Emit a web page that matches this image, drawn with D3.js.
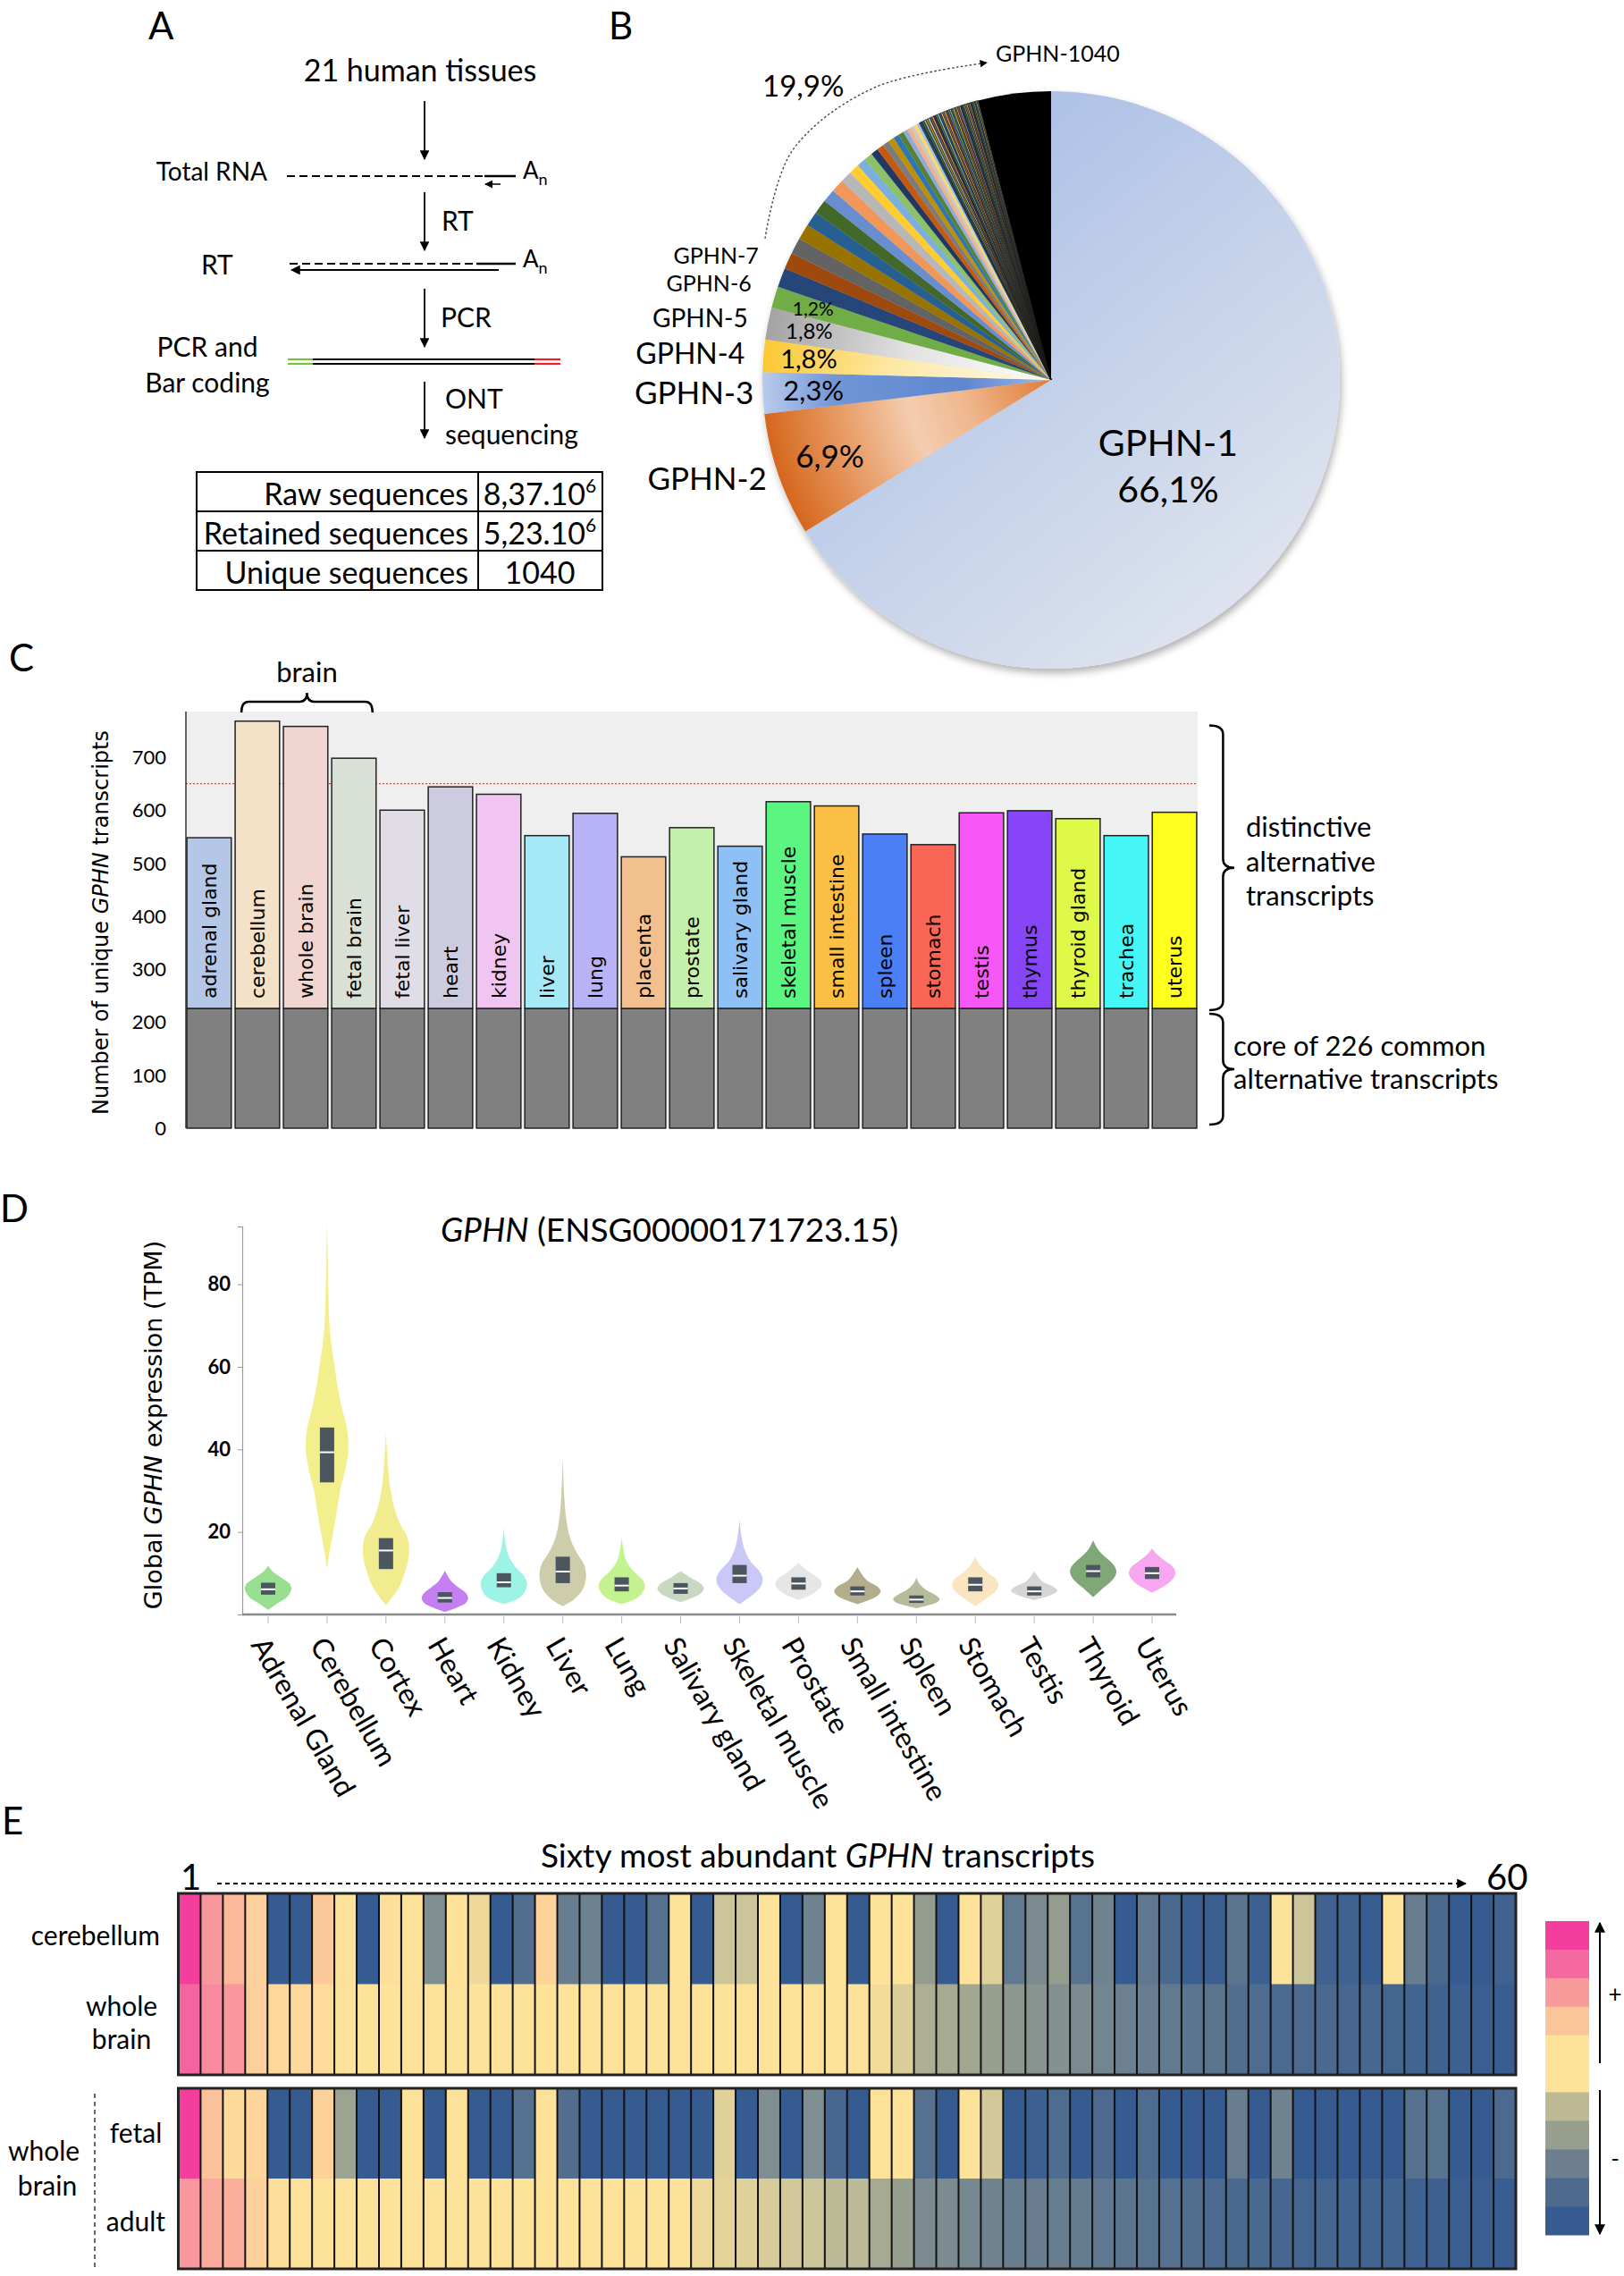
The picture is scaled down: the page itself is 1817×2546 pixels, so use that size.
<!DOCTYPE html>
<html>
<head>
<meta charset="utf-8">
<script src="https://cdn.jsdelivr.net/npm/d3@7"></script>
<style>
  body { margin: 0; background: #fff; }
  svg text { font-family: Lato, "Open Sans", sans-serif; fill: #000; }
  svg text.dv { font-family: "DejaVu Sans", sans-serif; }
</style>
</head>
<body>
<svg id="fig"></svg>
<script>
// ---------- data ----------
// panel A
var tableLabels = ["Raw sequences", "Retained sequences", "Unique sequences"];
var tableValues = ["8,37.10", "5,23.10", "1040"];
var tableExponents = ["6", "6", ""];

// panel B
var pieNames = ["GPHN-1", "GPHN-2", "GPHN-3", "GPHN-4", "GPHN-5", "GPHN-6"];
var piePct = [66.1, 6.9, 2.3, 1.8, 1.8, 1.2];
var pieTail = [1.07, 0.92, 0.9, 0.88, 0.82, 0.8, 0.74, 0.72, 0.66, 0.57, 0.5, 0.48,
  0.41, 0.4, 0.36, 0.33, 0.32, 0.31, 0.25, 0.22, 0.2, 0.18, 0.16];
var pieTiny = [0.14, 0.13, 0.13, 0.12, 0.12, 0.12, 0.11, 0.11, 0.11, 0.11, 0.1, 0.1,
  0.1, 0.1, 0.1, 0.1, 0.1, 0.1, 0.09, 0.09, 0.09, 0.09, 0.09, 0.09, 0.09, 0.08,
  0.08, 0.08, 0.08, 0.08, 0.08, 0.08, 0.07, 0.07, 0.07, 0.07];
var pieLast = 4.06;
var tailLabel = "19,9%";

// panel C
var tissues = ["adrenal gland", "cerebellum", "whole brain", "fetal brain", "fetal liver", "heart",
  "kidney", "liver", "lung", "placenta", "prostate", "salivary gland", "skeletal muscle",
  "small intestine", "spleen", "stomach", "testis", "thymus", "thyroid gland", "trachea", "uterus"];
var uniqueCounts = [548, 768, 758, 698, 600, 644, 630, 552, 594, 512, 567, 532, 616, 608,
  555, 535, 595, 599, 584, 552, 596];
var coreCount = 226;
var refCount = 650;
var cTicks = [0, 100, 200, 300, 400, 500, 600, 700];

// panel D
var gtexTissues = ["Adrenal Gland", "Cerebellum", "Cortex", "Heart", "Kidney", "Liver", "Lung",
  "Salivary gland", "Skeletal muscle", "Prostate", "Small intestine", "Spleen", "Stomach",
  "Testis", "Thyroid", "Uterus"];
// [q1, median, q3]
var gtexBoxes = [[4.8, 6.1, 7.7], [32, 39.3, 45.3], [11, 15.5, 18.5], [2.9, 4, 5.4], [6.6, 7.8, 10],
  [7.6, 10.4, 14], [5.6, 7, 9], [5, 6.3, 7.6], [7.6, 9.4, 12], [6, 7.5, 9], [4.6, 5.6, 6.8],
  [2.8, 3.6, 4.6], [5.6, 7.2, 9], [4.6, 5.6, 6.8], [9, 10.5, 12], [8.6, 10, 11.5]];
// violin density profiles: [TPM, relative density]
var gtexViolins = [
  [[1.1, 0], [2.5, 0.35], [4, 0.78], [5.5, 0.97], [6.4, 1], [7.5, 0.92], [9, 0.55], [10.5, 0.18], [11.8, 0]],
  [[11, 0], [15, 0.1], [20, 0.27], [25, 0.42], [30, 0.56], [35, 0.78], [40, 0.92], [45, 0.86],
   [50, 0.64], [55, 0.46], [60, 0.33], [65, 0.2], [70, 0.11], [80, 0.05], [90, 0.02], [95, 0]],
  [[2.3, 0], [4, 0.25], [7, 0.6], [10, 0.8], [13, 0.95], [16, 1], [19, 0.9], [22, 0.6], [26, 0.35],
   [30, 0.2], [35, 0.1], [40, 0.04], [44, 0]],
  [[0.6, 0], [1.5, 0.45], [2.8, 0.9], [4, 1], [5.2, 0.9], [6.5, 0.6], [8, 0.28], [10.6, 0]],
  [[2.5, 0], [3.5, 0.5], [5, 0.85], [7.5, 1], [9.5, 0.85], [11.5, 0.5], [14, 0.22], [17, 0.08], [21, 0]],
  [[2, 0], [3.5, 0.45], [6, 0.85], [9, 1], [12, 0.92], [15, 0.6], [18, 0.35], [22, 0.18], [28, 0.07], [38.5, 0]],
  [[2.5, 0], [3.5, 0.5], [5, 0.85], [6.8, 1], [8.5, 0.88], [10.5, 0.5], [13, 0.2], [15.5, 0.08], [18.6, 0]],
  [[3, 0], [4, 0.5], [5.2, 0.88], [6.3, 1], [7.5, 0.85], [8.8, 0.45], [10.5, 0]],
  [[2.5, 0], [4.5, 0.5], [6.5, 0.88], [8.5, 1], [10.5, 0.85], [13, 0.45], [16, 0.2], [19, 0.08], [23, 0]],
  [[3.5, 0], [4.8, 0.55], [6.3, 0.9], [7.5, 1], [8.8, 0.85], [10.5, 0.4], [12.5, 0]],
  [[2.5, 0], [3.5, 0.5], [4.6, 0.88], [5.6, 1], [6.8, 0.85], [8.3, 0.4], [11.5, 0]],
  [[1.5, 0], [2.2, 0.5], [3, 0.9], [3.7, 1], [4.6, 0.85], [6, 0.4], [7.5, 0.12], [9, 0]],
  [[2, 0], [3.8, 0.45], [5.5, 0.85], [7, 1], [8.5, 0.9], [10, 0.55], [12, 0.2], [14, 0]],
  [[3.5, 0], [4.3, 0.5], [5.2, 0.9], [5.8, 1], [6.8, 0.8], [8, 0.35], [10.5, 0]],
  [[4.2, 0], [6.5, 0.45], [8.5, 0.85], [10.3, 1], [12, 0.88], [14, 0.5], [16, 0.18], [18, 0]],
  [[5.3, 0], [6.8, 0.5], [8.5, 0.88], [10, 1], [11.5, 0.9], [13, 0.55], [14.5, 0.22], [16, 0]]
];
var dTicks = [20, 40, 60, 80];

// panel E (abundance level, 0 = lowest, 10 = highest)
var heatRowNames = ["cerebellum", "whole brain", "fetal", "adult"];
var cerebellumLevels = [10, 8.1, 7.2, 6.2, 0, 0, 6.5, 5, 0, 5.2, 5, 2.4, 5, 4.7, 0,
  1.1, 6, 1.8, 1.9, 0, 0, 1.2, 5, 0, 4, 4, 5, 0, 2, 5,
  0, 5, 5, 2.9, 0, 5, 4.4, 1.6, 2.3, 2.9, 1.3, 2, 0, 1.5, 0.8,
  0.2, 0.2, 1.4, 0.3, 5, 4, 0.4, 0.4, 0.1, 5, 1.8, 0.8, 0, 0, 0.4];
var wholeBrainLevels = [9.2, 8.4, 8.1, 6.2, 5.7, 5.7, 5.5, 5, 5, 5, 5, 5, 5, 5, 5,
  5, 5, 5, 5, 5, 5, 5, 5, 5, 5, 5, 5, 5, 5, 5,
  5, 4.8, 4.3, 3.4, 3.3, 3.2, 3, 2.7, 2.6, 2.5, 2.3, 2.1, 1.9, 1.8, 1.6,
  1.4, 1.4, 1.1, 1, 0.9, 0.9, 0.8, 0.7, 0.7, 0.6, 0.5, 0.4, 0.3, 0.2, 0.1];
var fetalLevels = [10, 6.9, 5.6, 5.9, 0, 0, 6.1, 3.1, 0, 0, 5, 0, 5, 0, 0,
  1.2, 5, 1.1, 0, 0, 0, 0, 0, 0, 4.4, 0, 2.4, 0, 2.4, 0.7,
  0, 5, 5, 1.2, 0, 5, 4.1, 0, 0.3, 1, 0, 0.9, 0, 1, 0,
  0, 0, 1.8, 0, 2, 0, 0, 0, 0, 0, 1.2, 1.3, 0, 0, 0.9];
var adultLevels = [8.1, 7.6, 7.5, 6.1, 5.2, 5.1, 5, 5, 5, 5, 5, 5, 5, 5, 5,
  5, 5, 5, 5, 5, 5, 5, 5, 4.7, 4.5, 4.4, 4.2, 4.1, 4, 3.7,
  3.7, 3.3, 3, 2.3, 2.3, 2.2, 2, 1.8, 1.8, 1.8, 1.7, 1.5, 1.4, 1.3, 1.2,
  1.1, 0.9, 0.8, 0.8, 0.7, 0.6, 0.6, 0.5, 0.5, 0.5, 0.4, 0.3, 0.2, 0.2, 0.1];
var heatLevelStops = [0, 1, 2, 3, 4, 5, 6, 7, 8, 9, 10];

// ---------- colours ----------
var tissueColors = ["#b4c7e7", "#f3e2c7", "#f0d5d1", "#d9e1d6", "#e1dde7", "#cccbe0", "#f1c5f1",
  "#a6e9f6", "#b8b3f6", "#f2c08f", "#c3f0aa", "#8ec0f6", "#5bf582", "#fbc043", "#4a7ff6",
  "#f96655", "#f657f6", "#8645f6", "#dff949", "#44f6f6", "#ffff1e"];
var gtexColors = ["#98e08f", "#f3ef8c", "#f1ed8e", "#c47ff0", "#9cf3e6", "#cdcdab", "#c2f38f",
  "#c9d9c1", "#c9c8f7", "#e6e6e6", "#b3ad8d", "#b6bb9c", "#fae5c1", "#d5d5d5", "#80a876", "#f7a7ef"];
var tailColors = ["#264478", "#9e480e", "#636363", "#997300", "#255e91", "#43682b", "#698ed0",
  "#f1975a", "#b7b7b7", "#ffcd33", "#7cafdd", "#8cc168", "#203864", "#c55a11", "#7b7b7b",
  "#bf9000", "#2e75b6", "#548235", "#8faadc", "#f4b183", "#c9c9c9", "#ffd966", "#9dc3e6"];
var heatColors = ["#365b91", "#4e6c8f", "#6f8390", "#979f8f", "#cdc59a", "#fde29a", "#fdd39a",
  "#fbc09a", "#f99c9c", "#f46fa0", "#f43e9e"];
var legendColors = ["#f43e9e", "#f46aa0", "#f99b9b", "#fbc59a", "#fde29a", "#fde29a", "#bdb995",
  "#979f8f", "#6d7f8e", "#4e6a8d", "#365b90"];

// ---------- svg ----------
var svgWidth = 1817;
var svgHeight = 2546;

var svg = d3.select("#fig")
  .attr("width", svgWidth)
  .attr("height", svgHeight);

svg.append("rect").attr("width", svgWidth).attr("height", svgHeight).attr("fill", "#fff");

var defs = svg.append("defs");
defs.append("marker")
  .attr("id", "head")
  .attr("viewBox", "0 0 10 10")
  .attr("refX", 9).attr("refY", 5)
  .attr("markerWidth", 6).attr("markerHeight", 6)
  .attr("orient", "auto-start-reverse")
  .append("path").attr("d", "M0,0L10,5L0,10z").attr("fill", "#000");

// panel letters
[["A", 166, 44], ["B", 681, 44], ["C", 10, 751], ["D", 0, 1367], ["E", 2, 2052]].forEach(function(p) {
  svg.append("text").attr("x", p[1]).attr("y", p[2]).attr("font-size", 42).text(p[0]);
});

// Panel A: workflow
// ==============================
var gA = svg.append("g");
var arrowX = 475;

function downArrow(y0, y1) {
  gA.append("line").attr("x1", arrowX).attr("x2", arrowX).attr("y1", y0).attr("y2", y1)
    .attr("stroke", "#000").attr("stroke-width", 1.8).attr("marker-end", "url(#head)");
}
function addText(g, x, y, size, anchor, txt) {
  return g.append("text").attr("x", x).attr("y", y).attr("font-size", size)
    .attr("text-anchor", anchor).text(txt);
}
function polyA(x, y) {
  var t = gA.append("text").attr("x", x).attr("y", y).attr("font-size", 26);
  t.append("tspan").text("A");
  t.append("tspan").attr("dy", 7).attr("font-size", 18).text("n");
}

addText(gA, 470, 91, 34, "middle", "21 human tissues");
downArrow(113, 178);
addText(gA, 299, 202, 28, "end", "Total RNA");
gA.append("line").attr("x1", 321).attr("x2", 542).attr("y1", 197).attr("y2", 197)
  .attr("stroke", "#000").attr("stroke-width", 2).attr("stroke-dasharray", "9,5");
gA.append("line").attr("x1", 542).attr("x2", 577).attr("y1", 197).attr("y2", 197)
  .attr("stroke", "#000").attr("stroke-width", 2.5);
gA.append("line").attr("x1", 560).attr("x2", 543).attr("y1", 206).attr("y2", 206)
  .attr("stroke", "#000").attr("stroke-width", 1.5).attr("marker-end", "url(#head)");
polyA(585, 200);

downArrow(215, 280);
addText(gA, 494, 258, 30, "start", "RT");
addText(gA, 225, 307, 30, "start", "RT");
gA.append("line").attr("x1", 324).attr("x2", 533).attr("y1", 295).attr("y2", 295)
  .attr("stroke", "#000").attr("stroke-width", 2).attr("stroke-dasharray", "9,5");
gA.append("line").attr("x1", 533).attr("x2", 577).attr("y1", 295).attr("y2", 295)
  .attr("stroke", "#000").attr("stroke-width", 2.5);
gA.append("line").attr("x1", 558).attr("x2", 326).attr("y1", 302).attr("y2", 302)
  .attr("stroke", "#000").attr("stroke-width", 1.8).attr("marker-end", "url(#head)");
polyA(585, 299);

downArrow(323, 388);
addText(gA, 493, 366, 30, "start", "PCR");
addText(gA, 232, 399, 30, "middle", "PCR and");
addText(gA, 232, 439, 30, "middle", "Bar coding");
[[322, 350, "#7ac143"], [350, 598, "#000"], [598, 627, "#e8212a"]].forEach(function(s) {
  [402, 407].forEach(function(y) {
    gA.append("line").attr("x1", s[0]).attr("x2", s[1]).attr("y1", y).attr("y2", y)
      .attr("stroke", s[2]).attr("stroke-width", 2.2);
  });
});

downArrow(427, 490);
addText(gA, 498, 457, 30, "start", "ONT");
addText(gA, 498, 497, 30, "start", "sequencing");

// table
var tY = d3.scaleBand().domain(tableLabels).range([528, 660]);
gA.append("rect").attr("x", 220).attr("y", 528).attr("width", 454).attr("height", 132)
  .attr("fill", "none").attr("stroke", "#000").attr("stroke-width", 2);
gA.append("line").attr("x1", 535).attr("x2", 535).attr("y1", 528).attr("y2", 660)
  .attr("stroke", "#000").attr("stroke-width", 2);
tableLabels.forEach(function(lab, i) {
  var y = tY(lab);
  if (i > 0) {
    gA.append("line").attr("x1", 220).attr("x2", 674).attr("y1", y).attr("y2", y)
      .attr("stroke", "#000").attr("stroke-width", 2);
  }
  addText(gA, 524, y + 37, 34, "end", lab);
  var t = gA.append("text").attr("x", 604).attr("y", y + 37).attr("font-size", 34)
    .attr("text-anchor", "middle");
  t.append("tspan").text(tableValues[i]);
  if (tableExponents[i]) t.append("tspan").attr("dy", -14).attr("font-size", 21).text(tableExponents[i]);
});

// Panel B: pie
// ==============================
var pieCx = 1176, pieCy = 425, pieR = 323;
var slices = [];
pieNames.forEach(function(n, i) { slices.push({ name: n, v: piePct[i], kind: "top", i: i }); });
pieTail.forEach(function(v, i) { slices.push({ v: v, kind: "tail", i: i }); });
pieTiny.forEach(function(v, i) { slices.push({ v: v, kind: "tiny", i: i }); });
slices.push({ v: pieLast, kind: "last" });

// gradients live in the pie group's own (centred) coordinates
var g1 = defs.append("linearGradient").attr("id", "pg0").attr("gradientUnits", "userSpaceOnUse")
  .attr("x1", -216).attr("y1", -245).attr("x2", 244).attr("y2", 305);
g1.append("stop").attr("offset", 0).attr("stop-color", "#a7bde5");
g1.append("stop").attr("offset", 1).attr("stop-color", "#e3e7ef");
var radialStops = [
  null,
  [["0", "#e07b35"], ["0.3", "#efb68c"], ["0.5", "#f4cdb0"], ["0.72", "#e9a06b"], ["1", "#d5671d"]],
  [["0", "#a3b9e4"], ["0.3", "#5f86cf"], ["0.75", "#7096d6"], ["1", "#b9cbec"]],
  [["0", "#fffbf0"], ["0.55", "#fde8a6"], ["1", "#fcc834"]],
  [["0", "#ffffff"], ["0.5", "#e2e2e2"], ["1", "#a3a3a3"]]
];
radialStops.forEach(function(st, i) {
  if (!st) return;
  var rg = defs.append("radialGradient").attr("id", "pg" + i).attr("gradientUnits", "userSpaceOnUse")
    .attr("cx", 0).attr("cy", 0).attr("r", pieR);
  st.forEach(function(s) { rg.append("stop").attr("offset", s[0]).attr("stop-color", s[1]); });
});
defs.append("filter").attr("id", "shadow").attr("x", "-10%").attr("y", "-10%").attr("width", "120%").attr("height", "120%")
  .append("feDropShadow").attr("dx", 2).attr("dy", 5).attr("stdDeviation", 4)
  .attr("flood-color", "#000").attr("flood-opacity", 0.3);

var pie = d3.pie().sort(null).value(function(d) { return d.v; });
var arcs = pie(slices);
var arc = d3.arc().innerRadius(0).outerRadius(pieR);

function sliceFill(d) {
  var s = d.data;
  if (s.kind === "top") return s.i < 5 ? "url(#pg" + s.i + ")" : "#70ad47";
  if (s.kind === "tail") return tailColors[s.i % tailColors.length];
  if (s.kind === "tiny") return tailColors[(s.i * 5) % tailColors.length];
  return "#000";
}

var gB = svg.append("g").attr("transform", "translate(" + pieCx + "," + pieCy + ")");
gB.append("g").attr("filter", "url(#shadow)")
  .selectAll("path").data(arcs).enter().append("path")
  .attr("d", arc)
  .attr("fill", sliceFill)
  .attr("stroke", function(d) { return d.data.kind === "tiny" ? "#1a1a1a" : "none"; })
  .attr("stroke-width", function(d) { return d.data.kind === "tiny" ? 0.7 : 0; });

function polar(a, r) { return [Math.sin(a) * r, -Math.cos(a) * r]; }
function mid(d) { return (d.startAngle + d.endAngle) / 2; }

// GPHN-1 label
var c1 = polar(mid(arcs[0]), 150);
addText(gB, c1[0], c1[1] + 12, 41, "middle", "GPHN-1");
addText(gB, c1[0], c1[1] + 64, 41, "middle", "66,1%");

// outer and inner labels for GPHN-2..7
var outerStyle = [null, [337, 35, 12], [333, 35, 12], [344, 32, 11], [346, 28, 9], [350, 25, 1], [350, 25, -6]];
var innerStyle = [null, [262, 35], [266, 31], [272, 29], [276, 24], [278, 21]];
for (var k = 1; k < 7; k++) {
  var a = mid(arcs[k]);
  var o = polar(a, outerStyle[k][0]);
  addText(gB, o[0], o[1] + outerStyle[k][2], outerStyle[k][1], "end", "GPHN-" + (k + 1));
  if (k < 6) {
    var p = polar(a, innerStyle[k][0]);
    addText(gB, p[0], p[1] + innerStyle[k][1] * 0.35, innerStyle[k][1], "middle",
      String(piePct[k]).replace(".", ",") + "%");
  }
}

// tail annotation
var tailStart = arcs[6].startAngle;
var tailEnd = arcs[arcs.length - 1].endAngle - 0.2;
var tailPath = [[tailStart + 0.13, 357], [tailStart + 0.4, 387], [tailStart + 0.7, 382], [tailEnd, 362]]
  .map(function(p) { return polar(p[0], p[1]); });
gB.append("path")
  .attr("d", d3.line().curve(d3.curveCardinal)(tailPath))
  .attr("fill", "none").attr("stroke", "#444").attr("stroke-width", 1.4)
  .attr("stroke-dasharray", "2.5,2.5").attr("marker-end", "url(#head)");
addText(svg, 853, 108, 33, "start", tailLabel);
addText(svg, 1114, 69, 25, "start", "GPHN-" + tableValues[2]);

// Panel C: bars
// ==============================
var gC = svg.append("g");
var cY = d3.scaleLinear().domain([0, 786]).range([1262, 796]);
var cX = d3.scaleBand().domain(tissues).range([208, 1340]).paddingInner(0.08).paddingOuter(0.02);

gC.append("rect").attr("x", 208).attr("y", cY(786)).attr("width", 1132).attr("height", cY(0) - cY(786))
  .attr("fill", "#efefef");
gC.append("line").attr("x1", 208).attr("x2", 1340).attr("y1", cY(refCount)).attr("y2", cY(refCount))
  .attr("stroke", "#c0504d").attr("stroke-width", 1.4).attr("stroke-dasharray", "2,2");
gC.append("line").attr("x1", 208).attr("x2", 208).attr("y1", cY(786)).attr("y2", cY(0))
  .attr("stroke", "#333").attr("stroke-width", 1.5);

gC.selectAll(".core").data(tissues).enter().append("rect")
  .attr("x", function(d) { return cX(d); })
  .attr("y", cY(coreCount))
  .attr("width", cX.bandwidth())
  .attr("height", cY(0) - cY(coreCount))
  .attr("fill", "#808080").attr("stroke", "#222").attr("stroke-width", 1.5);

gC.selectAll(".extra").data(tissues).enter().append("rect")
  .attr("x", function(d) { return cX(d); })
  .attr("y", function(d, i) { return cY(uniqueCounts[i]); })
  .attr("width", cX.bandwidth())
  .attr("height", function(d, i) { return cY(coreCount) - cY(uniqueCounts[i]); })
  .attr("fill", function(d, i) { return tissueColors[i]; })
  .attr("stroke", "#222").attr("stroke-width", 1.5);

gC.selectAll(".blab").data(tissues).enter().append("text")
  .attr("class", "dv")
  .attr("font-size", 22)
  .attr("transform", function(d) {
    return "translate(" + (cX(d) + cX.bandwidth() / 2 + 8) + "," + (cY(coreCount) - 11) + ") rotate(-90)";
  })
  .text(function(d) { return d; });

gC.selectAll(".ctick").data(cTicks).enter().append("text")
  .attr("x", 186).attr("y", function(d) { return cY(d) + 8; })
  .attr("font-size", 22).attr("text-anchor", "end").attr("fill", "#222")
  .text(function(d) { return d; });

var cTitle = gC.append("text").attr("class", "dv").attr("font-size", 24).attr("text-anchor", "middle")
  .attr("transform", "translate(121,1032) rotate(-90)");
cTitle.append("tspan").text("Number of unique ");
cTitle.append("tspan").attr("font-style", "italic").text("GPHN");
cTitle.append("tspan").text(" transcripts");

function vBrace(x, y0, y1, w) {
  var m = (y0 + y1) / 2, r = 10, xm = x + w * 0.55;
  return "M" + x + "," + y0 + "Q" + xm + "," + y0 + " " + xm + "," + (y0 + r) +
    "L" + xm + "," + (m - r) + "Q" + xm + "," + m + " " + (x + w) + "," + m +
    "Q" + xm + "," + m + " " + xm + "," + (m + r) + "L" + xm + "," + (y1 - r) +
    "Q" + xm + "," + y1 + " " + x + "," + y1;
}
function hBrace(x0, x1, y, h) {
  var m = (x0 + x1) / 2, r = 8, ym = y - h * 0.55;
  return "M" + x0 + "," + y + "Q" + x0 + "," + ym + " " + (x0 + r) + "," + ym +
    "L" + (m - r) + "," + ym + "Q" + m + "," + ym + " " + m + "," + (y - h) +
    "Q" + m + "," + ym + " " + (m + r) + "," + ym + "L" + (x1 - r) + "," + ym +
    "Q" + x1 + "," + ym + " " + x1 + "," + y;
}
var brainX0 = cX(tissues[1]) + 7, brainX1 = cX(tissues[3]) + cX.bandwidth() - 4;
gC.append("path").attr("d", hBrace(brainX0, brainX1, 797, 22))
  .attr("fill", "none").attr("stroke", "#000").attr("stroke-width", 2.5);
addText(gC, (brainX0 + brainX1) / 2, 763, 31, "middle", "brain");

gC.append("path").attr("d", vBrace(1353, cY(760), cY(coreCount) + 2, 28))
  .attr("fill", "none").attr("stroke", "#000").attr("stroke-width", 2.5);
gC.append("path").attr("d", vBrace(1353, cY(coreCount) + 6, cY(0) - 4, 28))
  .attr("fill", "none").attr("stroke", "#000").attr("stroke-width", 2.5);
addText(gC, 1394, 936, 31, "start", "distinctive");
addText(gC, 1394, 975, 31, "start", "alternative");
addText(gC, 1394, 1013, 31, "start", "transcripts");
addText(gC, 1380, 1181, 31, "start", "core of " + coreCount + " common");
addText(gC, 1380, 1218, 31, "start", "alternative transcripts");

// Panel D: violins
// ==============================
var gD = svg.append("g");
var dY = d3.scaleLinear().domain([0, 94]).range([1806, 1372]);
var dX = d3.scaleBand().domain(gtexTissues).range([267, 1322]);
var halfW = 26;

var leftAxis = d3.axisLeft(dY).tickValues(dTicks).tickSize(5).tickPadding(8);
var axD = gD.append("g").attr("transform", "translate(271,0)").call(leftAxis);
axD.select(".domain").attr("stroke", "#999").attr("stroke-width", 1.2);
axD.selectAll(".tick line").attr("stroke", "#999");
axD.selectAll(".tick text").attr("font-size", 22).attr("font-weight", "bold")
  .attr("fill", "#333").attr("font-family", "Lato, sans-serif");

gD.append("line").attr("x1", 271).attr("x2", 1316).attr("y1", dY(0)).attr("y2", dY(0))
  .attr("stroke", "#8a8a8a").attr("stroke-width", 2.5);
gD.selectAll(".xt").data(gtexTissues).enter().append("line")
  .attr("x1", function(d) { return dX(d) + dX.bandwidth() / 2; })
  .attr("x2", function(d) { return dX(d) + dX.bandwidth() / 2; })
  .attr("y1", dY(0) + 2).attr("y2", dY(0) + 10)
  .attr("stroke", "#bbb").attr("stroke-width", 1);

gtexTissues.forEach(function(t, i) {
  var cx = dX(t) + dX.bandwidth() / 2;
  var area = d3.area().curve(d3.curveCatmullRom)
    .y(function(d) { return dY(d[0]); })
    .x0(function(d) { return cx - halfW * d[1]; })
    .x1(function(d) { return cx + halfW * d[1]; });
  gD.append("path").attr("d", area(gtexViolins[i])).attr("fill", gtexColors[i]);
  var b = gtexBoxes[i];
  gD.append("rect").attr("x", cx - 8).attr("y", dY(b[2])).attr("width", 16)
    .attr("height", dY(b[0]) - dY(b[2])).attr("fill", "#4b565e");
  gD.append("line").attr("x1", cx - 8).attr("x2", cx + 8).attr("y1", dY(b[1])).attr("y2", dY(b[1]))
    .attr("stroke", "#fff").attr("stroke-width", 2);
});

gD.selectAll(".xl").data(gtexTissues).enter().append("text")
  .attr("font-size", 32)
  .attr("transform", function(d) {
    return "translate(" + (dX(d) + dX.bandwidth() / 2 - 20) + "," + (dY(0) + 34) + ") rotate(60)";
  })
  .text(function(d) { return d; });

var dTitle = gD.append("text").attr("x", 749).attr("y", 1389).attr("font-size", 37).attr("text-anchor", "middle");
dTitle.append("tspan").attr("font-style", "italic").text("GPHN");
dTitle.append("tspan").text(" (ENSG00000171723.15)");

var dYTitle = gD.append("text").attr("class", "dv").attr("font-size", 27).attr("text-anchor", "middle")
  .attr("transform", "translate(181,1594) rotate(-90)");
dYTitle.append("tspan").text("Global ");
dYTitle.append("tspan").attr("font-style", "italic").text("GPHN");
dYTitle.append("tspan").text(" expression (TPM)");

// Panel E: heat map
// ==============================
var gE = svg.append("g");
var eX = d3.scaleBand().domain(d3.range(1, 61)).range([199.5, 1696]);
var blocks = [
  { rows: [cerebellumLevels, wholeBrainLevels], y0: 2118, y1: 2321 },
  { rows: [fetalLevels, adultLevels], y0: 2336, y1: 2538 }
];
var heatColor = d3.scaleLinear().domain(heatLevelStops).range(heatColors);

blocks.forEach(function(bl) {
  var eY = d3.scaleBand().domain([0, 1]).range([bl.y0, bl.y1]);
  bl.rows.forEach(function(vals, r) {
    gE.selectAll(null).data(vals).enter().append("rect")
      .attr("x", function(d, i) { return eX(i + 1); })
      .attr("y", eY(r))
      .attr("width", eX.bandwidth() + 0.5)
      .attr("height", eY.bandwidth() + 0.5)
      .attr("fill", function(d) { return heatColor(d); });
  });
  gE.selectAll(null).data(d3.range(2, 61)).enter().append("line")
    .attr("x1", function(d) { return eX(d); }).attr("x2", function(d) { return eX(d); })
    .attr("y1", bl.y0).attr("y2", bl.y1)
    .attr("stroke", "#111").attr("stroke-width", 2);
  gE.append("rect").attr("x", 199.5).attr("y", bl.y0).attr("width", 1696 - 199.5).attr("height", bl.y1 - bl.y0)
    .attr("fill", "none").attr("stroke", "#222").attr("stroke-width", 3);
});

var eTitle = gE.append("text").attr("x", 915).attr("y", 2089).attr("font-size", 37).attr("text-anchor", "middle");
eTitle.append("tspan").text("Sixty most abundant ");
eTitle.append("tspan").attr("font-style", "italic").text("GPHN");
eTitle.append("tspan").text(" transcripts");
addText(gE, 202, 2114, 40, "start", "1");
addText(gE, 1663, 2114, 40, "start", "60");
gE.append("line").attr("x1", 243).attr("x2", 1640).attr("y1", 2107).attr("y2", 2107)
  .attr("stroke", "#000").attr("stroke-width", 1.8).attr("stroke-dasharray", "5,4")
  .attr("marker-end", "url(#head)");

addText(gE, 179, 2176, 30, "end", heatRowNames[0]);
addText(gE, 136, 2255, 30, "middle", "whole");
addText(gE, 136, 2292, 30, "middle", "brain");
addText(gE, 152, 2397, 30, "middle", heatRowNames[2]);
addText(gE, 152, 2496, 30, "middle", heatRowNames[3]);
addText(gE, 49, 2417, 30, "middle", "whole");
addText(gE, 53, 2456, 30, "middle", "brain");
gE.append("line").attr("x1", 106).attr("x2", 106).attr("y1", 2342).attr("y2", 2538)
  .attr("stroke", "#000").attr("stroke-width", 1.2).attr("stroke-dasharray", "5,4");

// legend
var lY = d3.scaleBand().domain(d3.range(legendColors.length)).range([2149, 2500]);
gE.selectAll(".leg").data(legendColors).enter().append("rect")
  .attr("x", 1729).attr("y", function(d, i) { return lY(i); })
  .attr("width", 49).attr("height", lY.bandwidth() + 0.5)
  .attr("fill", function(d) { return d; });
gE.append("line").attr("x1", 1790).attr("x2", 1790).attr("y1", 2308).attr("y2", 2151)
  .attr("stroke", "#000").attr("stroke-width", 2).attr("marker-end", "url(#head)");
gE.append("line").attr("x1", 1790).attr("x2", 1790).attr("y1", 2338).attr("y2", 2499)
  .attr("stroke", "#000").attr("stroke-width", 2).attr("marker-end", "url(#head)");
addText(gE, 1807, 2240, 26, "middle", "+");
addText(gE, 1807, 2424, 26, "middle", "-");
</script>
</body>
</html>
